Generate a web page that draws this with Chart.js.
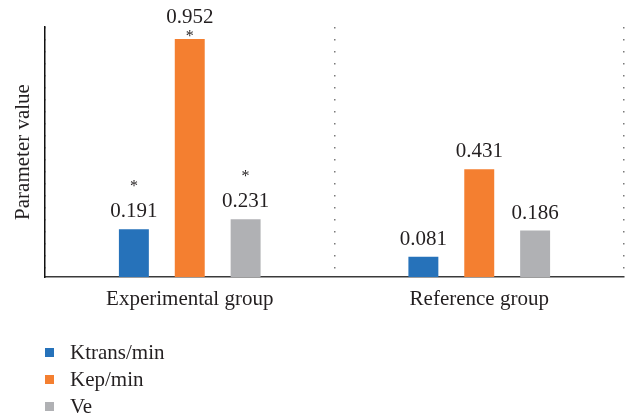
<!DOCTYPE html>
<html>
<head>
<meta charset="utf-8">
<script src="https://cdn.jsdelivr.net/npm/chart.js@4"></script>
<style>
  body { margin: 0; background: #fff; }
  #wrap { position: relative; width: 625px; height: 419px; }
  #legend { position: absolute; left: 45px; top: 339px; font: 21px "Liberation Serif", serif; color: #231f20; }
  #legend div { height: 27px; line-height: 27px; display: flex; align-items: center; }
  #legend span.box { display: inline-block; width: 9px; height: 9px; margin-right: 16px; }
</style>
</head>
<body>
<div id="wrap">
  <canvas id="chart" width="625" height="419"></canvas>
  <div id="legend"></div>
</div>
<script>
// data
const groups = ['Experimental group', 'Reference group'];
const ktrans = [0.191, 0.081];
const kep = [0.952, 0.431];
const ve = [0.231, 0.186];
// significance marks (asterisk) per series, per group
const ktransSig = ['*', ''];
const kepSig = ['*', ''];
const veSig = ['*', ''];

const seriesNames = ['Ktrans/min', 'Kep/min', 'Ve'];
const colors = ['#2672ba', '#f47f30', '#b0b1b4'];
const serif = '"Liberation Serif", "Times New Roman", serif';
const ink = '#231f20';

// draws value labels and asterisks on top of each bar
const valueLabels = {
  id: 'valueLabels',
  afterDatasetsDraw(chart) {
    const ctx = chart.ctx;
    const top = chart.chartArea.top;
    ctx.save();
    ctx.fillStyle = ink;
    ctx.textAlign = 'center';
    chart.data.datasets.forEach((ds, di) => {
      const meta = chart.getDatasetMeta(di);
      meta.data.forEach((bar, i) => {
        const v = ds.data[i];
        const star = ds.sig[i];
        let labelY = bar.y - 12;
        let starY = bar.y - 47;
        if (star && starY < top) {
          // no room above, put the star between label and bar
          starY = bar.y - 7;
          labelY = bar.y - 16;
        }
        ctx.font = '21px ' + serif;
        ctx.textBaseline = 'alphabetic';
        ctx.fillText(v.toFixed(3), bar.x, labelY);
        if (star) {
          ctx.font = '16px ' + serif;
          ctx.fillText(star, bar.x, starY + 9);
        }
      });
    });
    ctx.restore();
  }
};

const sigs = [ktransSig, kepSig, veSig];
const chart = new Chart(document.getElementById('chart'), {
  type: 'bar',
  data: {
    labels: groups,
    datasets: [ktrans, kep, ve].map((d, i) => ({
      label: seriesNames[i],
      data: d,
      sig: sigs[i],
      backgroundColor: colors[i],
      barPercentage: 0.536,
      categoryPercentage: 0.579
    }))
  },
  options: {
    responsive: false,
    animation: false,
    layout: { padding: { top: 27, right: 1, left: 0, bottom: 0 } },
    plugins: { legend: { display: false }, tooltip: { enabled: false } },
    scales: {
      x: {
        grid: { display: true, color: '#7a7a7a', lineWidth: 1.5, drawTicks: false },
        border: { display: true, color: '#3a3a3a', width: 1.5, dash: [1.5, 10.5] },
        ticks: { color: ink, font: { family: serif, size: 21 }, padding: 10 },
        afterFit(s) { s.height = 142; }
      },
      y: {
        min: 0,
        max: 1,
        grid: { display: false },
        border: { display: true, color: '#111', width: 1.5 },
        ticks: { display: false },
        title: { display: true, text: 'Parameter value', color: ink, font: { family: serif, size: 21 }, padding: { top: 11, bottom: 0 } },
        afterFit(s) { s.width = 45; }
      }
    }
  },
  plugins: [valueLabels]
});

// vertical legend under the chart
const legend = document.getElementById('legend');
chart.data.datasets.forEach(ds => {
  const row = document.createElement('div');
  const box = document.createElement('span');
  box.className = 'box';
  box.style.background = ds.backgroundColor;
  row.appendChild(box);
  row.appendChild(document.createTextNode(ds.label));
  legend.appendChild(row);
});
</script>
</body>
</html>
